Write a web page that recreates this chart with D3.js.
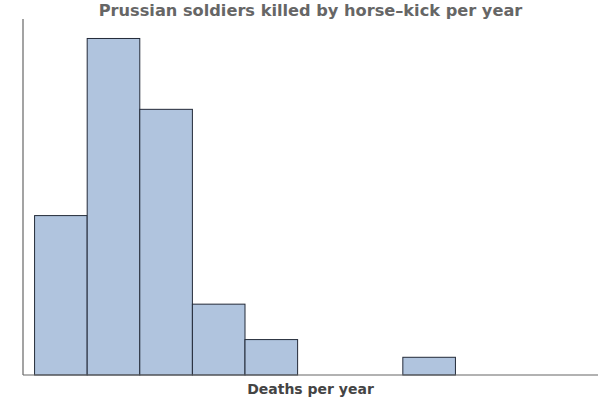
<!DOCTYPE html>
<html>
<head>
<meta charset="utf-8">
<script src="https://cdn.jsdelivr.net/npm/d3@7"></script>
<style>
  body { margin: 0; background: #fff; }
  text { font-family: "DejaVu Sans", sans-serif; font-weight: bold; }
</style>
</head>
<body>
<svg id="s" width="600" height="399"></svg>
<script>
// histogram bins (left edge of each bin) and counts
const binStarts = [0, 1, 2, 3, 4, 5, 6, 7];
const counts = [9, 19, 15, 4, 2, 0, 0, 1];
const title = 'Prussian soldiers killed by horse\u2013kick per year';
const xLabel = 'Deaths per year';

const margin = { left: 23, right: 2, top: 19, bottom: 24 };
const W = 600, H = 399;
const svg = d3.select('#s');

const x = d3.scaleLinear()
  .domain([-0.22, 10.71])
  .range([margin.left, W - margin.right]);
const y = d3.scaleLinear()
  .domain([0, 20.1])
  .range([H - margin.bottom, margin.top]);

const bins = binStarts.map((b, i) => ({ x0: b, x1: b + 1, n: counts[i] }));

svg.append('g')
  .selectAll('rect')
  .data(bins.filter(d => d.n > 0))
  .enter()
  .append('rect')
  .attr('x', d => x(d.x0))
  .attr('y', d => y(d.n))
  .attr('width', d => x(d.x1) - x(d.x0))
  .attr('height', d => y(0) - y(d.n))
  .attr('fill', '#b0c4de')
  .attr('stroke', '#232a38')
  .attr('stroke-width', 1);

// spines
svg.append('line')
  .attr('x1', x.range()[0]).attr('x2', x.range()[1])
  .attr('y1', y(0)).attr('y2', y(0))
  .attr('stroke', '#666').attr('stroke-width', 1.2);
svg.append('line')
  .attr('x1', x.range()[0]).attr('x2', x.range()[0])
  .attr('y1', y.range()[0]).attr('y2', y.range()[1])
  .attr('stroke', '#666').attr('stroke-width', 1.2);

const cx = (x.range()[0] + x.range()[1]) / 2;
svg.append('text')
  .attr('x', cx).attr('y', 15.5)
  .attr('text-anchor', 'middle')
  .attr('font-size', 16.2)
  .attr('fill', '#666')
  .text(title);
svg.append('text')
  .attr('x', cx).attr('y', 394)
  .attr('text-anchor', 'middle')
  .attr('font-size', 14)
  .attr('fill', '#444')
  .text(xLabel);
</script>
</body>
</html>
